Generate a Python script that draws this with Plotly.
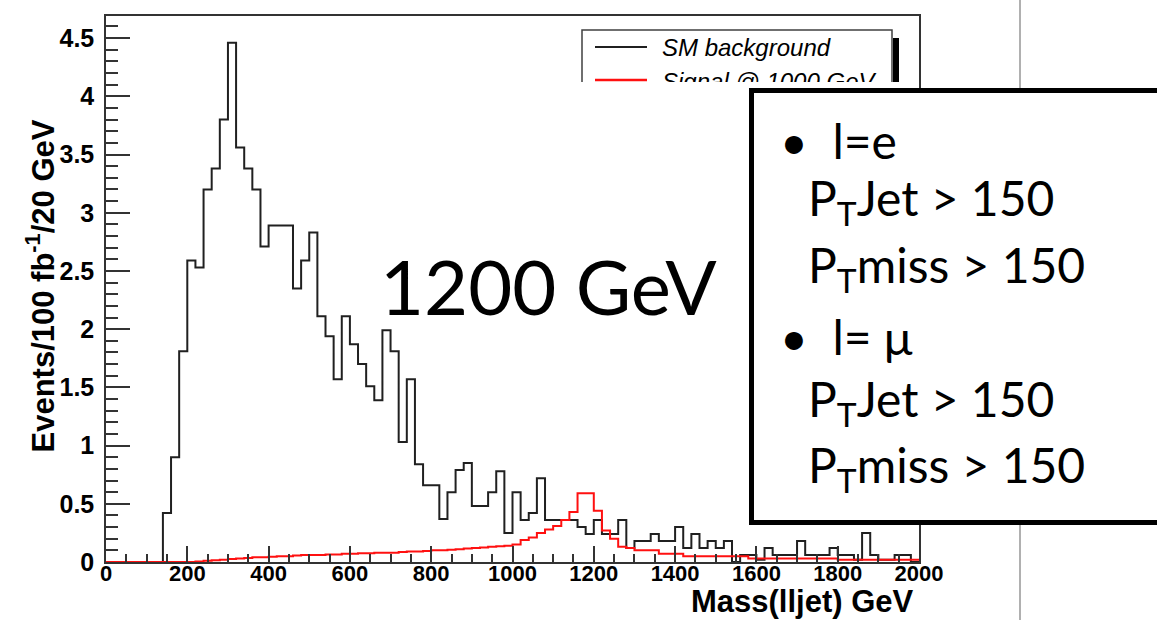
import plotly.graph_objects as go

# ---------------- data ----------------
bin_edges_left = list(range(0, 2000, 20))
x_end = 2000

sm_background = [
    0, 0, 0, 0, 0, 0, 0,                      # 0-120
    0.42, 0.90, 1.81, 2.59, 2.53, 3.20, 3.38, 3.80, 4.46, 3.56,   # 140-320
    3.38, 3.20, 2.71, 2.89, 2.89, 2.89, 2.35, 2.59, 2.83, 2.11,   # 340-520
    1.94, 1.57, 2.11, 1.87, 1.70, 1.51, 1.39, 1.99, 1.81, 1.03,   # 540-720
    1.57, 0.84, 0.66, 0.66, 0.37, 0.60, 0.79, 0.85, 0.48, 0.48,   # 740-920
    0.60, 0.78, 0.25, 0.60, 0.36, 0.42, 0.72, 0.36, 0.36, 0.36,   # 940-1120
    0.36, 0.30, 0.24, 0.36, 0.24, 0.24, 0.36, 0.12, 0.18, 0.18,   # 1140-1320
    0.24, 0.18, 0.18, 0.30, 0.12, 0.24, 0.12, 0.18, 0.12, 0.18,   # 1340-1520
    0.0, 0.06, 0.06, 0.02, 0.12, 0.06, 0.06, 0.06, 0.18, 0.06,    # 1540-1720
    0.06, 0.06, 0.12, 0.06, 0.06, 0.02, 0.25, 0.06, 0.02, 0.02,   # 1740-1920
    0.06, 0.06, 0.0,                                              # 1940-1980
]

signal_1200 = [
    0, 0, 0, 0, 0, 0, 0, 0, 0, 0,                                 # 0-180
    0.0, 0.005, 0.01, 0.015, 0.02, 0.025, 0.03, 0.035, 0.04, 0.04,  # 200-380
    0.045, 0.05, 0.05, 0.055, 0.06, 0.06, 0.06, 0.065, 0.065, 0.07,  # 400-580
    0.07, 0.075, 0.075, 0.08, 0.08, 0.08, 0.085, 0.09, 0.09, 0.095,  # 600-780
    0.10, 0.10, 0.105, 0.11, 0.115, 0.12, 0.125, 0.13, 0.135, 0.14,  # 800-980
    0.15, 0.19, 0.21, 0.25, 0.28, 0.31, 0.36, 0.43, 0.59, 0.59,   # 1000-1180
    0.44, 0.27, 0.20, 0.13, 0.12, 0.10, 0.10, 0.10, 0.07, 0.07,   # 1200-1380
    0.07, 0.05, 0.05, 0.05, 0.05, 0.05, 0.05, 0.05, 0.05, 0.03,   # 1400-1580
    0.03, 0.03, 0.03, 0.03, 0.03, 0.03, 0.03, 0.03, 0.03, 0.03,   # 1600-1780
    0.02, 0.02, 0.02, 0.02, 0.02, 0.02, 0.02, 0.02, 0.02, 0.02,   # 1800-1980
]

x_tick_vals = [0, 200, 400, 600, 800, 1000, 1200, 1400, 1600, 1800, 2000]
y_tick_vals = [0, 0.5, 1, 1.5, 2, 2.5, 3, 3.5, 4, 4.5]
y_tick_text = ["0", "0.5", "1", "1.5", "2", "2.5", "3", "3.5", "4", "4.5"]

legend_labels = ["SM background", "Signal @ 1000 GeV"]
box_lines = ["•  l=e", "P<sub>T</sub>Jet > 150", "P<sub>T</sub>miss > 150",
             "•  l= μ", "P<sub>T</sub>Jet > 150", "P<sub>T</sub>miss > 150"]
mass_label = "1200 GeV"

# ---------------- layout geometry (pixels) ----------------
FIG_W, FIG_H = 1157, 620
L, R, T, B = 106, 919, 16, 562
W, H = R - L, B - T


def px(x):
    return (x - L) / W


def py(y):
    return (B - y) / H


fig = go.Figure()

fig.add_trace(go.Scatter(
    x=bin_edges_left + [x_end], y=sm_background + [sm_background[-1]],
    mode="lines", line=dict(color="#202020", width=2, shape="hv"),
    name=legend_labels[0], showlegend=False, hoverinfo="skip"))
fig.add_trace(go.Scatter(
    x=bin_edges_left + [x_end], y=signal_1200 + [signal_1200[-1]],
    mode="lines", line=dict(color="#ff1010", width=2, shape="hv"),
    name=legend_labels[1], showlegend=False, hoverinfo="skip"))

FONT = "Liberation Sans, Arial, sans-serif"

fig.update_layout(
    width=FIG_W, height=FIG_H,
    margin=dict(l=L, r=FIG_W - R, t=T, b=FIG_H - B, pad=0),
    paper_bgcolor="white", plot_bgcolor="white",
    font=dict(family=FONT, color="black"),
    xaxis=dict(range=[0, 2000], tickvals=x_tick_vals, ticks="inside", ticklen=16,
               tickwidth=1.5, tickcolor="#333", showgrid=False, zeroline=False,
               showline=True, linecolor="#333", linewidth=1.5, mirror=True,
               tickfont=dict(family=FONT, size=22, color="black", weight="bold"),
               ticklabelstandoff=-9,
               minor=dict(dtick=50, tick0=0, ticks="inside", ticklen=8, tickcolor="#333",
                          tickwidth=1.5, showgrid=False)),
    yaxis=dict(range=[0, 4.69], tickvals=y_tick_vals, ticktext=y_tick_text,
               ticks="inside", ticklen=24, tickwidth=1.5, tickcolor="#333",
               showgrid=False, zeroline=False, showline=True, linecolor="#333",
               linewidth=1.5, mirror=True,
               tickfont=dict(family=FONT, size=25, color="black", weight="bold"),
               ticklabelstandoff=5,
               minor=dict(dtick=0.1, tick0=0, ticks="inside", ticklen=12, tickcolor="#333",
                          tickwidth=1.5, showgrid=False)),
)

shapes = []
# slide divider line
shapes.append(dict(type="line", xref="paper", yref="paper", x0=px(1020), x1=px(1020),
                   y0=py(0), y1=py(620), line=dict(color="#b0b0b0", width=2), layer="below"))
# legend box + shadow
shapes.append(dict(type="rect", xref="paper", yref="paper", x0=px(893), x1=px(899),
                   y0=py(38), y1=py(100), fillcolor="black", line=dict(width=0)))
shapes.append(dict(type="rect", xref="paper", yref="paper", x0=px(582), x1=px(892),
                   y0=py(30), y1=py(110), fillcolor="white", line=dict(color="#404040", width=1.5)))
shapes.append(dict(type="line", xref="paper", yref="paper", x0=px(595), x1=px(647),
                   y0=py(47), y1=py(47), line=dict(color="#202020", width=2)))
shapes.append(dict(type="line", xref="paper", yref="paper", x0=px(595), x1=px(647),
                   y0=py(80), y1=py(80), line=dict(color="#ff1010", width=2.5)))
fig.update_layout(shapes=shapes)

ann = []
ann.append(dict(xref="paper", yref="paper", x=px(660), y=py(47), xanchor="left", yanchor="middle",
                text="<i>" + legend_labels[0] + "</i>", showarrow=False,
                font=dict(family=FONT, size=24, color="black")))
ann.append(dict(xref="paper", yref="paper", x=px(660), y=py(81), xanchor="left", yanchor="middle",
                text="<i>" + legend_labels[1] + "</i>", showarrow=False,
                font=dict(family=FONT, size=24, color="black")))
# white cover hiding the lower part of the legend
ann.append(dict(xref="paper", yref="paper", x=px(570), y=py(82), xanchor="left", yanchor="top",
                text=" ", showarrow=False, width=340, height=40, bgcolor="white",
                borderpad=0, borderwidth=0))
# axis titles
ann.append(dict(xref="paper", yref="paper", x=px(916), y=py(621), xanchor="right", yanchor="bottom",
                text="<b>Mass(lljet) GeV</b>", showarrow=False,
                font=dict(family=FONT, size=31, color="black")))
ann.append(dict(xref="paper", yref="paper", x=px(40), y=py(118), xanchor="center", yanchor="top",
                textangle=-90, text="<b>Events/100 fb<sup>-1</sup>/20 GeV</b>", showarrow=False,
                font=dict(family=FONT, size=31, color="black")))
# big text box
ann.append(dict(xref="paper", yref="paper", x=px(749), y=py(88), xanchor="left", yanchor="top",
                text=" ", showarrow=False, width=420, height=427, bgcolor="white",
                bordercolor="black", borderwidth=5, borderpad=0))
box_y = [140, 201, 268, 336, 402, 468]
box_x = [778, 806, 806, 778, 806, 806]
for t, xx, yy in zip(box_lines, box_x, box_y):
    ann.append(dict(xref="paper", yref="paper", x=px(xx), y=py(yy), xanchor="left",
                    yanchor="middle", text=t, showarrow=False,
                    font=dict(family="Lato, Open Sans, sans-serif", size=48, color="black")))
ann.append(dict(xref="paper", yref="paper", x=px(548), y=py(285), xanchor="center",
                yanchor="middle", text=mass_label, showarrow=False,
                font=dict(family="Lato, Open Sans, sans-serif", size=76, color="black")))
fig.update_layout(annotations=ann)

fig.write_html("out.html")
